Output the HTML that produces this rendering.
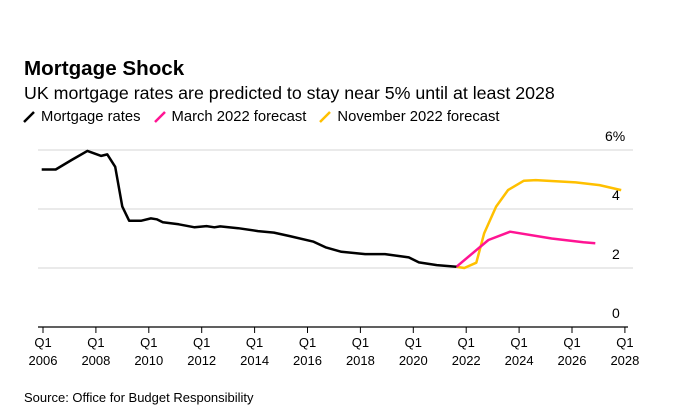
<!DOCTYPE html>
<html><head><meta charset="utf-8"><style>
body{margin:0;width:674px;height:404px;background:#fff;font-family:"Liberation Sans",sans-serif;overflow:hidden;position:relative}
.t{position:absolute;white-space:nowrap;color:#000}
</style></head><body>
<div class="t" style="left:24px;top:57px;font-size:20.6px;font-weight:bold">Mortgage Shock</div>
<div class="t" style="left:24px;top:83px;font-size:17.8px">UK mortgage rates are predicted to stay near 5% until at least 2028</div>
<div style="position:absolute;left:22px;top:109px;font-size:14.8px;display:flex;gap:0">
 <span style="display:flex;align-items:center;margin-right:12px"><svg width="19" height="14"><line x1="2" y1="12" x2="12" y2="2" stroke="#000" stroke-width="2.5"/></svg>Mortgage rates</span>
 <span style="display:flex;align-items:center;margin-right:12px"><svg width="19" height="14"><line x1="2" y1="12" x2="12" y2="2" stroke="#ff1493" stroke-width="2.5"/></svg>March 2022 forecast</span>
 <span style="display:flex;align-items:center"><svg width="19" height="14"><line x1="2" y1="12" x2="12" y2="2" stroke="#ffc000" stroke-width="2.5"/></svg>November 2022 forecast</span>
</div>
<svg id="c" width="674" height="404" style="position:absolute;left:0;top:0"></svg>
<div class="t" style="left:24px;top:390px;font-size:13px">Source: Office for Budget Responsibility</div>
<script>
const yTicks=[0,2,4,6];
const yTickLabels=["0","2","4","6%"];
const xTicks=[2006,2008,2010,2012,2014,2016,2018,2020,2022,2024,2026,2028];
const mortYears=[2005.95,2006.48,2007.08,2007.68,2008.2,2008.43,2008.73,2009.0,2009.26,2009.7,2010.08,2010.3,2010.53,2011.13,2011.73,2012.18,2012.48,2012.7,2013.38,2014.13,2014.73,2015.33,2016.23,2016.68,2017.28,2018.18,2018.93,2019.83,2020.21,2020.89,2021.63];
const mortValues=[5.34,5.34,5.66,5.97,5.8,5.85,5.43,4.08,3.6,3.6,3.68,3.65,3.55,3.48,3.38,3.42,3.38,3.41,3.35,3.25,3.2,3.08,2.89,2.7,2.55,2.47,2.47,2.36,2.19,2.1,2.04];
const marchYears=[2021.63,2022.84,2023.66,2025.23,2026.43,2026.88];
const marchValues=[2.04,2.95,3.23,3.0,2.87,2.84];
const novYears=[2021.63,2021.93,2022.38,2022.68,2023.13,2023.58,2024.18,2024.63,2026.14,2027.04,2027.86];
const novValues=[2.04,2.0,2.18,3.18,4.08,4.64,4.96,4.98,4.9,4.81,4.64];
const NS="http://www.w3.org/2000/svg";
const svg=document.getElementById('c');
const xS=y=>43+(y-2006)*26.45;
const yS=v=>327-v*29.5;
function mk(tag,attrs){const e=document.createElementNS(NS,tag);for(const k in attrs)e.setAttribute(k,attrs[k]);svg.appendChild(e);return e;}
yTicks.forEach((v,i)=>{
 if(v>0){const g=mk('line',{x1:38,x2:633,y1:yS(v),y2:yS(v),stroke:'#e3e3e3','stroke-width':1.5});
 
 }
 const t=mk('text',{x:v===6?605:612,y:yS(v)-9,'font-size':14,'font-family':'Liberation Sans, sans-serif'});
 t.textContent=yTickLabels[i];
 
 
});
const ax=mk('line',{x1:38,x2:628,y1:327,y2:327,stroke:'#000','stroke-width':1.2});


xTicks.forEach(y=>{
 const x=xS(y);
 const tk=mk('line',{x1:x,x2:x,y1:327,y2:333,stroke:'#000','stroke-width':1});
 
 
 const t1=mk('text',{x:x,y:347,'font-size':13,'text-anchor':'middle','font-family':'Liberation Sans, sans-serif'});
 t1.textContent='Q1';
 
 
 const t2=mk('text',{x:x,y:365,'font-size':13,'text-anchor':'middle','font-family':'Liberation Sans, sans-serif'});
 t2.textContent=String(y);
 
 
});
function line(xs,vs,col,name){
 const d=xs.map((y,i)=>(i?'L':'M')+xS(y).toFixed(1)+' '+yS(vs[i]).toFixed(1)).join(' ');
 const p=mk('path',{d:d,fill:'none',stroke:col,'stroke-width':2.5,'stroke-linejoin':'round'});
 
 
}
line(novYears,novValues,'#ffc000','november-forecast-line');
line(marchYears,marchValues,'#ff1493','march-forecast-line');
line(mortYears,mortValues,'#000','mortgage-rates-line');
</script>
</body></html>
